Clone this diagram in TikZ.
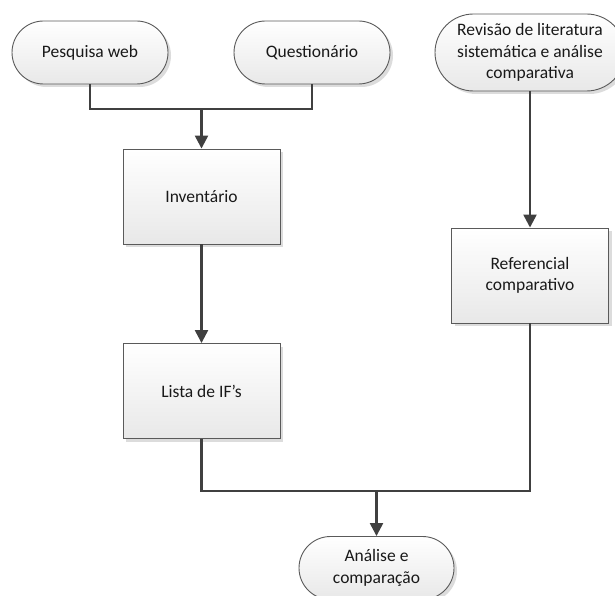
\documentclass[tikz,border=0pt]{standalone}
\usepackage{fontspec}
\setmainfont{Carlito}
\usetikzlibrary{shapes.misc,shadows,arrows.meta}
\definecolor{linegray}{HTML}{404040}
\definecolor{edgegray}{HTML}{5A5A5A}
\begin{document}
\begin{tikzpicture}[x=1pt,y=-1pt,
  base/.style={draw=edgegray, line width=0.9pt, top color=white, bottom color=black!9,
    align=center, inner sep=2pt, text=black!90,
    font=\fontsize{17.5}{21.5}\selectfont,
    drop shadow={shadow xshift=3pt, shadow yshift=-3pt, fill=black!30, opacity=0.45}},
  term/.style={base, rounded rectangle},
  proc/.style={base, rectangle},
  link/.style={draw=linegray, line width=2.4pt},
  arr/.style={link, -{Triangle[width=13pt,length=13pt]}}]
\useasboundingbox (0,0) rectangle (615,596);

% start terminators
\node[term, minimum width=160pt, minimum height=63pt] (pw) at (90,52.5) {Pesquisa web};
\node[term, minimum width=160pt, minimum height=63pt] (qu) at (312,52.5) {Questionário};
\node[term, minimum width=194pt, minimum height=77pt] (rev) at (530,52.5)
  {Revisão de literatura\\sistemática e análise\\comparativa};

% process boxes
\node[proc, minimum width=157pt, minimum height=95pt] (inv) at (201.5,196.5) {Inventário};
\node[proc, minimum width=157pt, minimum height=95pt] (lis) at (201.5,391) {Lista de IF’s};
\node[proc, minimum width=157pt, minimum height=95pt] (ref) at (530,275.5) {Referencial\\comparativo};

% end terminator
\node[term, minimum width=159pt, minimum height=63pt] (ana) at (376.5,568) {Análise e\\comparação};

% junctions
\coordinate (j1) at (201.5,109);
\coordinate (j2) at (376.5,491);

% connectors
\draw[link] (pw.south) |- (j1) -| (qu.south);
\draw[arr] (j1) -- (inv.north);
\draw[arr] (inv.south) -- (lis.north);
\draw[arr] (rev.south) -- (ref.north);
\draw[link] (lis.south) |- (j2) -| (ref.south);
\draw[arr] (j2) -- (ana.north);
\end{tikzpicture}
\end{document}
